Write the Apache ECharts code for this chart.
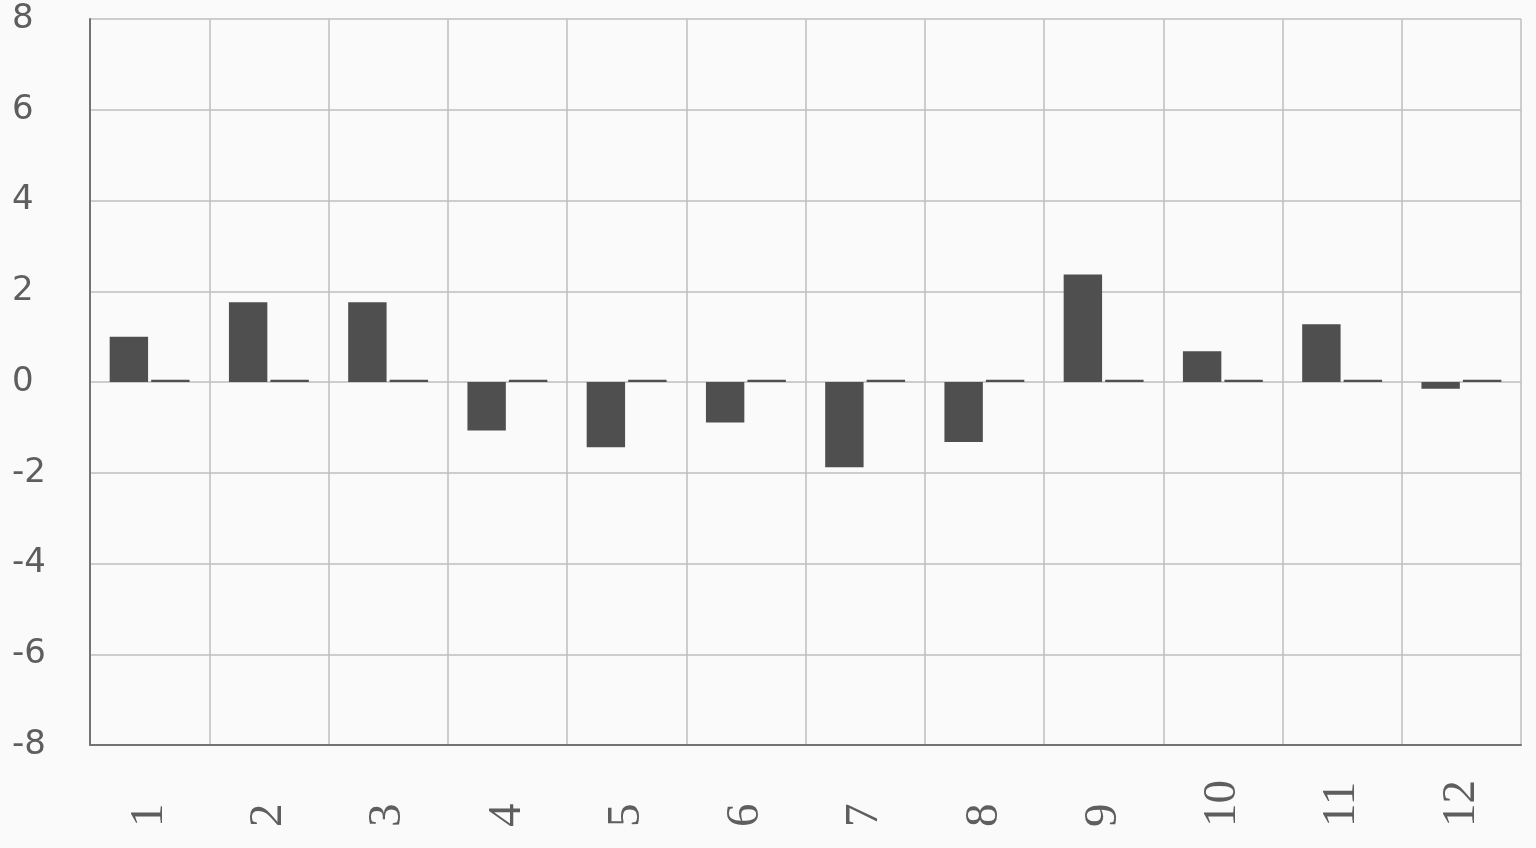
<!DOCTYPE html>
<html>
<head>
<meta charset="utf-8">
<script src="https://cdn.jsdelivr.net/npm/echarts@6/dist/echarts.min.js"></script>
<style>
html,body{margin:0;padding:0;background:#fafafa;}
#chart{width:1536px;height:848px;}
</style>
</head>
<body>
<div id="chart"></div>
<script>
const categories = ['1','2','3','4','5','6','7','8','9','10','11','12'];
const seriesA = [1.0, 1.76, 1.76, -1.07, -1.44, -0.89, -1.88, -1.32, 2.37, 0.68, 1.27, -0.15];
const seriesB = [0.05, 0.05, 0.05, 0.05, 0.05, 0.05, 0.05, 0.05, 0.05, 0.05, 0.05, 0.05];
const yMin = -8, yMax = 8, yStep = 2;

const chart = echarts.init(document.getElementById('chart'), null, {renderer: 'canvas'});
chart.setOption({
  backgroundColor: '#fafafa',
  animation: false,
  grid: {left: 90, right: 15, top: 19, bottom: 103, containLabel: false},
  xAxis: {
    type: 'category',
    data: categories,
    boundaryGap: true,
    axisLine: {show: true, onZero: false, lineStyle: {color: '#737373', width: 2}},
    axisTick: {show: false},
    splitLine: {show: true, interval: 0, lineStyle: {color: '#bebebe', width: 1.5}},
    axisLabel: {
      interval: 0, rotate: 90, align: 'left', margin: 82,
      fontFamily: 'Liberation Sans Narrow', fontSize: 47, color: '#5e5e5e'
    }
  },
  yAxis: {
    type: 'value',
    min: yMin, max: yMax, interval: yStep,
    axisLine: {show: true, lineStyle: {color: '#737373', width: 2}},
    axisTick: {show: false},
    splitLine: {show: true, lineStyle: {color: '#bebebe', width: 1.5}},
    axisLabel: {
      align: 'left', margin: 78,
      fontFamily: 'DejaVu Sans', fontSize: 34, color: '#5e5e5e'
    }
  },
  series: [
    {type: 'bar', data: seriesA, itemStyle: {color: '#4f4f4f'}, barGap: '8%', barCategoryGap: '33%'},
    {type: 'bar', data: seriesB, itemStyle: {color: '#4f4f4f'}, barGap: '8%', barCategoryGap: '33%'}
  ]
});
</script>
</body>
</html>
